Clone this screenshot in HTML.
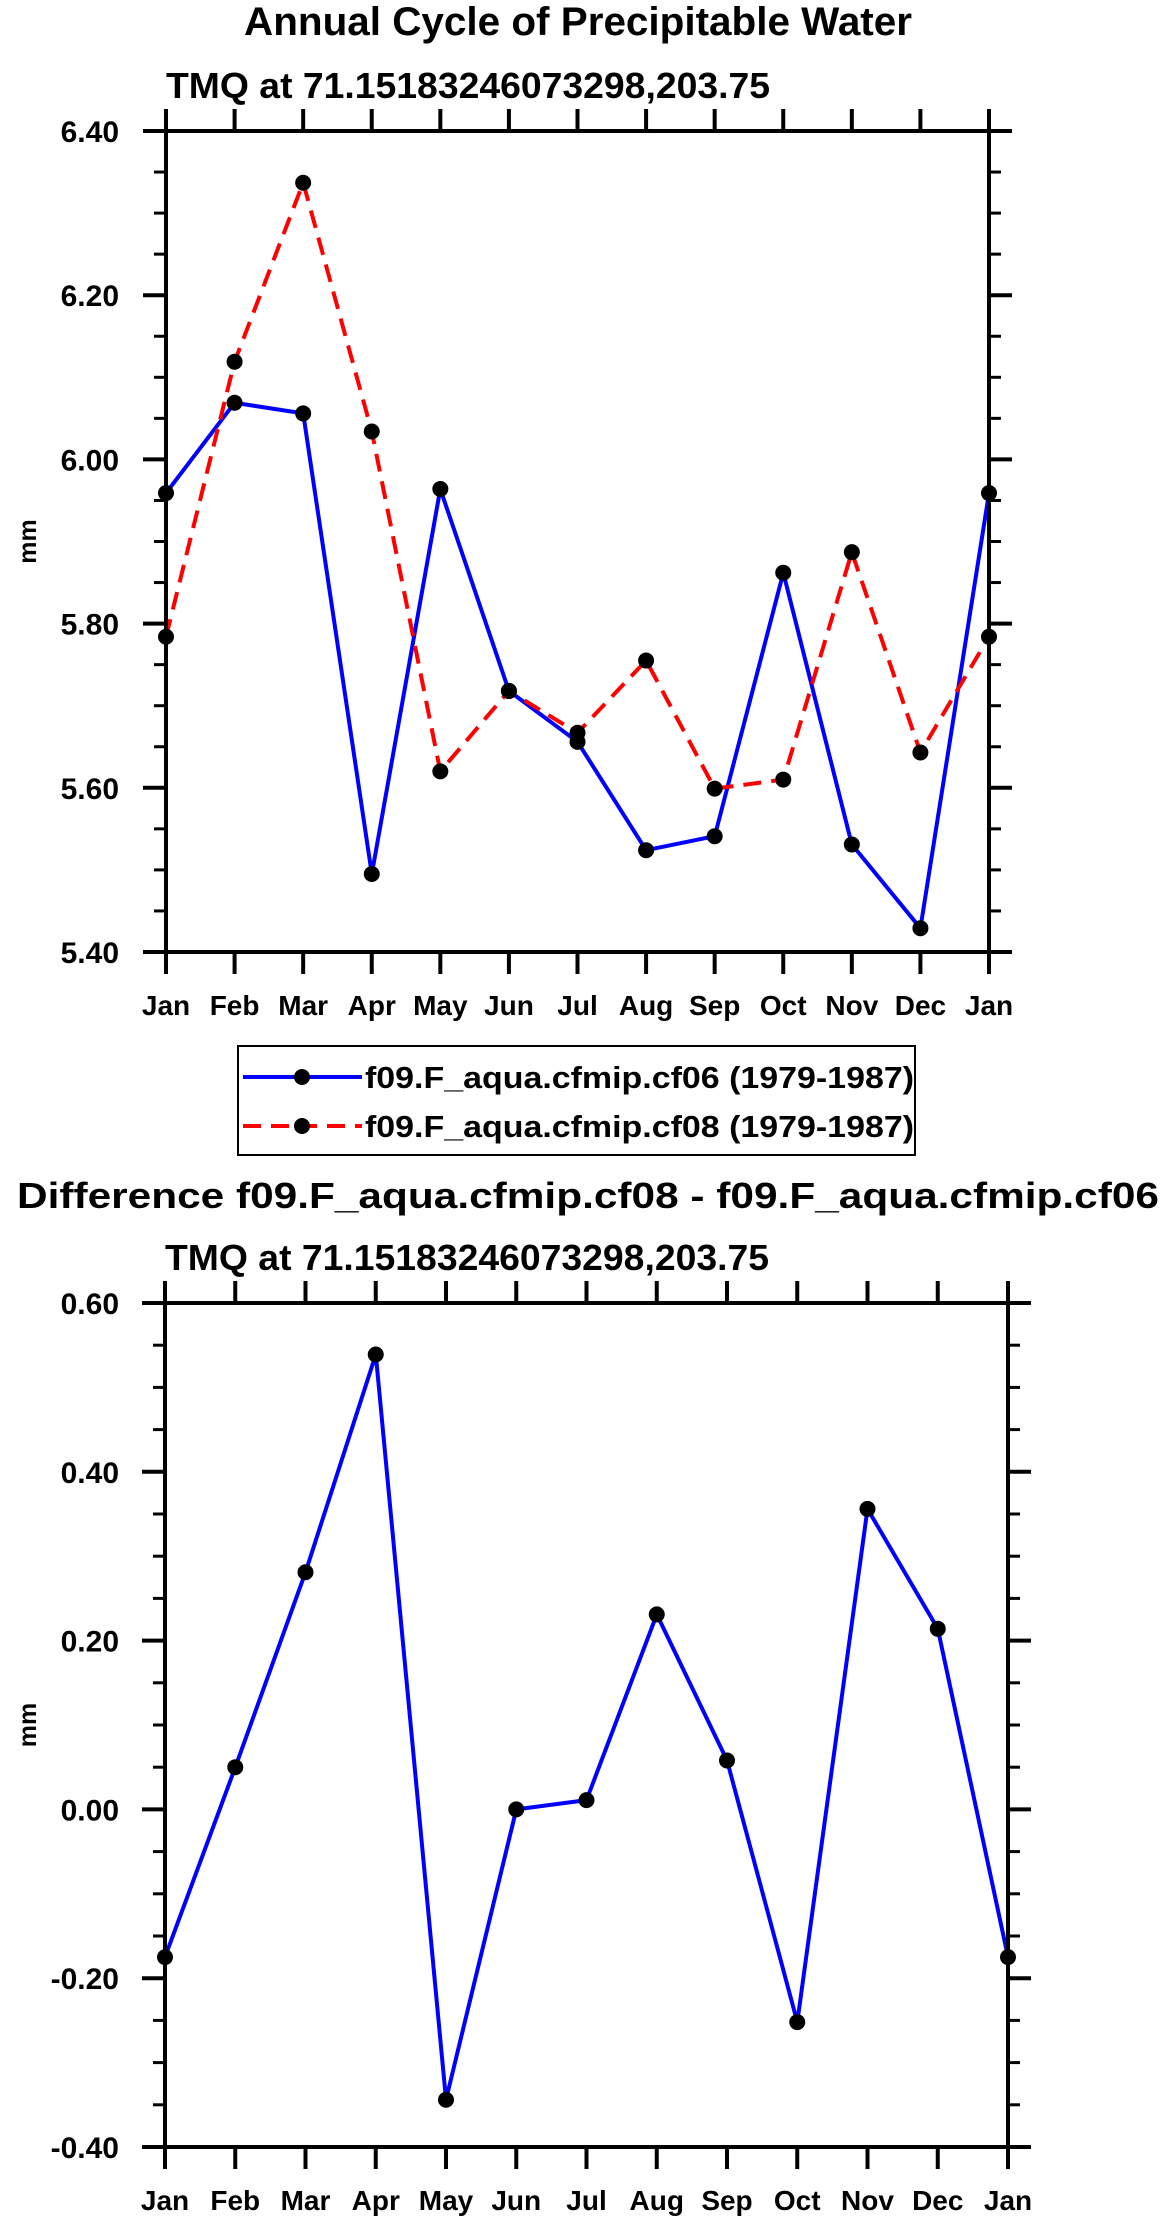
<!DOCTYPE html>
<html><head><meta charset="utf-8"><style>
html,body{margin:0;padding:0;background:#fff;}
svg{display:block;font-family:"Liberation Sans",sans-serif;font-weight:bold;}
</style></head><body>
<svg id="svg" width="1161" height="2222" viewBox="0 0 1161 2222" xmlns="http://www.w3.org/2000/svg">
<text x="244" y="35" font-size="40" textLength="668" lengthAdjust="spacingAndGlyphs">Annual Cycle of Precipitable Water</text>
<text x="166" y="98" font-size="36" textLength="604" lengthAdjust="spacingAndGlyphs">TMQ at 71.15183246073298,203.75</text>
<text x="17" y="1208" font-size="36" textLength="1142" lengthAdjust="spacingAndGlyphs">Difference f09.F_aqua.cfmip.cf08 - f09.F_aqua.cfmip.cf06</text>
<text x="165" y="1270" font-size="36" textLength="604" lengthAdjust="spacingAndGlyphs">TMQ at 71.15183246073298,203.75</text>
<g>
<rect x="238" y="1046" width="677" height="109" fill="none" stroke="#000" stroke-width="2"/>
<g>
<line x1="243" y1="1077" x2="362" y2="1077" stroke="#0000ff" stroke-width="4"/>
<circle cx="302" cy="1077" r="8" fill="#000"/>
<text x="365" y="1088" font-size="31" textLength="549" lengthAdjust="spacingAndGlyphs">f09.F_aqua.cfmip.cf06 (1979-1987)</text>
</g>
<g>
<line x1="243" y1="1126" x2="362" y2="1126" stroke="#ff0000" stroke-width="4" stroke-dasharray="18 10"/>
<circle cx="302" cy="1126" r="8" fill="#000"/>
<text x="365" y="1137" font-size="31" textLength="549" lengthAdjust="spacingAndGlyphs">f09.F_aqua.cfmip.cf08 (1979-1987)</text>
</g>
</g>
</svg>
<script>
const months = ["Jan","Feb","Mar","Apr","May","Jun","Jul","Aug","Sep","Oct","Nov","Dec","Jan"];
const cf06 = [5.959,6.069,6.056,5.495,5.964,5.718,5.656,5.524,5.541,5.862,5.531,5.429,5.959];
const cf08 = [5.784,6.119,6.337,6.034,5.620,5.718,5.667,5.755,5.599,5.610,5.887,5.643,5.784];
const diffVals = [-0.175,0.050,0.281,0.539,-0.344,0.000,0.011,0.231,0.058,-0.252,0.356,0.214,-0.175];
const topTicks = [5.40,5.60,5.80,6.00,6.20,6.40];
const topTickLabels = ["5.40","5.60","5.80","6.00","6.20","6.40"];
const botTicks = [-0.40,-0.20,0.00,0.20,0.40,0.60];
const botTickLabels = ["-0.40","-0.20","0.00","0.20","0.40","0.60"];

const NS = "http://www.w3.org/2000/svg";
const svg = document.getElementById("svg");
function mk(tag, attrs, parent){
  const e = document.createElementNS(NS, tag);
  for (const k in attrs) e.setAttribute(k, attrs[k]);
  (parent||svg).appendChild(e);
  return e;
}

function drawPlot(p){
  const g = mk("g", {});
  
  
  const n = months.length - 1;
  const xs = i => p.x0 + (p.x1 - p.x0) * i / n;
  const ys = v => p.y1 - (v - p.vmin) / (p.vmax - p.vmin) * (p.y1 - p.y0);
  // series
  p.series.forEach(s => {
    const pts = s.vals.map((v,i) => xs(i).toFixed(1) + "," + ys(v).toFixed(1)).join(" ");
    const pl = mk("polyline", {points: pts, fill: "none", stroke: s.color, "stroke-width": 4, "stroke-linejoin": "round"}, g);
    if (s.dash) pl.setAttribute("stroke-dasharray", s.dash);
    
    
  });
  p.series.forEach(s => {
    s.vals.forEach((v,i) => {
      const c = mk("circle", {cx: xs(i), cy: ys(v), r: 8, fill: "#000"}, g);
      
      
    });
  });
  // frame
  const fr = mk("rect", {x: p.x0, y: p.y0, width: p.x1 - p.x0, height: p.y1 - p.y0, fill: "none", stroke: "#000", "stroke-width": 4}, g);
  
  
  // x ticks
  months.forEach((m,i) => {
    const x = xs(i);
    mk("line", {x1: x, y1: p.y1, x2: x, y2: p.y1 + 22, stroke: "#000", "stroke-width": 4}, g);
    mk("line", {x1: x, y1: p.y0, x2: x, y2: p.y0 - 22, stroke: "#000", "stroke-width": 4}, g);
    const t = mk("text", {x: x, y: p.y1 + 63, "font-size": 28, "text-anchor": "middle"}, g);
    t.textContent = m;
    
    
  });
  // y ticks
  p.ticks.forEach((v,i) => {
    const y = ys(v);
    mk("line", {x1: p.x0 - 23, y1: y, x2: p.x0, y2: y, stroke: "#000", "stroke-width": 4}, g);
    mk("line", {x1: p.x1, y1: y, x2: p.x1 + 23, y2: y, stroke: "#000", "stroke-width": 4}, g);
    const t = mk("text", {x: 119, y: y + 11, "font-size": 30, "text-anchor": "end"}, g);
    t.textContent = p.labels[i];
    
    
    if (i < p.ticks.length - 1) {
      const step = (p.ticks[i+1] - v) / 4;
      for (let k = 1; k < 4; k++) {
        const ym = ys(v + step * k);
        mk("line", {x1: p.x0 - 12, y1: ym, x2: p.x0, y2: ym, stroke: "#000", "stroke-width": 3}, g);
        mk("line", {x1: p.x1, y1: ym, x2: p.x1 + 12, y2: ym, stroke: "#000", "stroke-width": 3}, g);
      }
    }
  });
  const cy = (p.y0 + p.y1) / 2;
  const yl = mk("text", {x: 36, y: cy, "font-size": 25, "text-anchor": "middle", transform: "rotate(-90 36 " + cy + ")"}, g);
  yl.textContent = "mm";
  
  
}

drawPlot({name: "annual-cycle-plot", x0: 166, x1: 989, y0: 131, y1: 952, vmin: 5.4, vmax: 6.4,
  ticks: topTicks, labels: topTickLabels,
  series: [{name: "cf06", vals: cf06, color: "#0000ff"}, {name: "cf08", vals: cf08, color: "#ff0000", dash: "18 10"}]});
drawPlot({name: "difference-plot", x0: 165, x1: 1008, y0: 1303, y1: 2147, vmin: -0.4, vmax: 0.6,
  ticks: botTicks, labels: botTickLabels,
  series: [{name: "difference", vals: diffVals, color: "#0000ff"}]});
</script>
</body></html>
